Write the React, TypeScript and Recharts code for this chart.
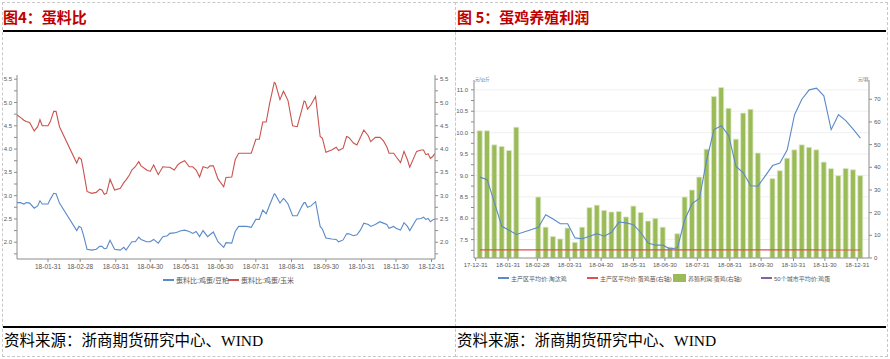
import React from 'react'
import { ComposedChart, Line, Bar, XAxis, YAxis, CartesianGrid } from 'recharts'

// 图4 蛋料比
const ratioDates = [
  '2018-01-04', '2018-01-07', '2018-01-10', '2018-01-12', '2018-01-15', '2018-01-19', '2018-01-22', '2018-01-24', '2018-01-26', '2018-01-31',
  '2018-02-02', '2018-02-05', '2018-02-07', '2018-02-10', '2018-02-25', '2018-02-27', '2018-03-01', '2018-03-03', '2018-03-06', '2018-03-10',
  '2018-03-14', '2018-03-17', '2018-03-19', '2018-03-21', '2018-03-23', '2018-03-26', '2018-03-30', '2018-04-04', '2018-04-07', '2018-04-09',
  '2018-04-12', '2018-04-14', '2018-04-17', '2018-04-20', '2018-04-22', '2018-04-27', '2018-04-30', '2018-05-03', '2018-05-07', '2018-05-11',
  '2018-05-15', '2018-05-17', '2018-05-21', '2018-05-24', '2018-05-26', '2018-05-30', '2018-06-03', '2018-06-06', '2018-06-09', '2018-06-12',
  '2018-06-15', '2018-06-19', '2018-06-21', '2018-06-24', '2018-06-28', '2018-07-03', '2018-07-05', '2018-07-10', '2018-07-13', '2018-07-16',
  '2018-07-23', '2018-07-27', '2018-07-31', '2018-08-03', '2018-08-06', '2018-08-09', '2018-08-12', '2018-08-16', '2018-08-17', '2018-08-21',
  '2018-08-24', '2018-08-25', '2018-08-28', '2018-09-01', '2018-09-05', '2018-09-09', '2018-09-11', '2018-09-12', '2018-09-14', '2018-09-17',
  '2018-09-21', '2018-09-25', '2018-09-27', '2018-09-30', '2018-10-05', '2018-10-09', '2018-10-11', '2018-10-15', '2018-10-18', '2018-10-20',
  '2018-10-24', '2018-10-27', '2018-10-30', '2018-11-02', '2018-11-06', '2018-11-08', '2018-11-12', '2018-11-16', '2018-11-19', '2018-11-22',
  '2018-11-24', '2018-11-28', '2018-11-30', '2018-12-04', '2018-12-07', '2018-12-10', '2018-12-12', '2018-12-18', '2018-12-22', '2018-12-24',
  '2018-12-26', '2018-12-28', '2018-12-30', '2019-01-01', '2019-01-03',
]
// 蛋料比:鸡蛋/豆粕
const eggSoymeal = [
  2.85, 2.85, 2.82, 2.85, 2.84, 2.73, 2.78, 2.89, 2.82, 2.82,
  2.92, 3.05, 3.04, 2.84, 2.25, 2.34, 2.31, 2.14, 1.85, 1.83,
  1.85, 1.91, 1.91, 1.86, 1.87, 2.04, 1.85, 1.83, 1.89, 1.83,
  1.94, 2.01, 2.01, 2.11, 2.06, 2.01, 2.01, 2.06, 1.98, 2.12,
  2.14, 2.19, 2.2, 2.22, 2.24, 2.26, 2.23, 2.19, 2.23, 2.12,
  2.25, 2.12, 2.16, 2.22, 2.01, 1.89, 1.99, 1.98, 2.23, 2.34,
  2.34, 2.32, 2.49, 2.49, 2.69, 2.61, 2.8, 3.04, 3.02, 2.84,
  2.94, 2.92, 2.82, 2.57, 2.57, 2.77, 2.85, 2.85, 2.75, 2.78,
  2.87, 2.34, 2.28, 2.09, 2.07, 2.06, 2.01, 2.05, 2.18, 2.18,
  2.14, 2.16, 2.26, 2.41, 2.38, 2.34, 2.38, 2.44, 2.41, 2.38,
  2.3, 2.34, 2.3, 2.26, 2.42, 2.34, 2.25, 2.5, 2.51, 2.54,
  2.49, 2.51, 2.44, 2.48, 2.5,
]
// 蛋料比:鸡蛋/玉米
const eggCorn = [
  4.73, 4.68, 4.62, 4.59, 4.57, 4.39, 4.48, 4.63, 4.5, 4.5,
  4.59, 4.81, 4.81, 4.48, 3.7, 3.82, 3.78, 3.52, 3.09, 3.05,
  3.07, 3.14, 3.12, 3.03, 3.05, 3.35, 3.12, 3.16, 3.28, 3.34,
  3.45, 3.55, 3.62, 3.73, 3.64, 3.55, 3.52, 3.66, 3.45, 3.62,
  3.61, 3.61, 3.55, 3.66, 3.7, 3.75, 3.62, 3.62, 3.55, 3.4,
  3.62, 3.59, 3.64, 3.64, 3.36, 3.19, 3.39, 3.4, 3.77, 3.91,
  3.91, 3.91, 4.21, 4.21, 4.58, 4.58, 4.98, 5.43, 5.41, 5.06,
  5.24, 5.2, 5.04, 4.5, 4.48, 4.84, 5.03, 5.02, 4.86, 4.95,
  5.13, 4.27, 4.23, 3.93, 3.98, 4.04, 3.97, 4.02, 4.27, 4.25,
  4.13, 4.09, 4.25, 4.41, 4.28, 4.16, 4.25, 4.25, 4.18, 4.05,
  3.91, 3.91, 3.84, 3.71, 3.95, 3.77, 3.61, 3.95, 3.98, 3.98,
  3.88, 3.9, 3.8, 3.84, 3.91,
]
const ratioTicks = ['18-01-31', '18-02-28', '18-03-31', '18-04-30', '18-05-31', '18-06-30', '18-07-31', '18-08-31', '18-09-30', '18-10-31', '18-11-30', '18-12-31']
const ratioYTicks = [1.75, 2, 2.25, 2.5, 2.75, 3, 3.25, 3.5, 3.75, 4, 4.25, 4.5, 4.75, 5, 5.25, 5.5]
const ratioYMajor = [2, 2.5, 3, 3.5, 4, 4.5, 5, 5.5]

// 图5 蛋鸡养殖利润 (weekly)
const weekDates = [
  '2018-01-04', '2018-01-11', '2018-01-18', '2018-01-25', '2018-02-01', '2018-02-08', '2018-02-15', '2018-02-22', '2018-03-01', '2018-03-08',
  '2018-03-15', '2018-03-22', '2018-03-29', '2018-04-05', '2018-04-12', '2018-04-19', '2018-04-26', '2018-05-03', '2018-05-10', '2018-05-17',
  '2018-05-24', '2018-05-31', '2018-06-07', '2018-06-14', '2018-06-21', '2018-06-28', '2018-07-05', '2018-07-12', '2018-07-19', '2018-07-26',
  '2018-08-02', '2018-08-09', '2018-08-16', '2018-08-23', '2018-08-30', '2018-09-06', '2018-09-13', '2018-09-20', '2018-09-27', '2018-10-04',
  '2018-10-11', '2018-10-18', '2018-10-25', '2018-11-01', '2018-11-08', '2018-11-15', '2018-11-22', '2018-11-29', '2018-12-06', '2018-12-13',
  '2018-12-20', '2018-12-27', '2019-01-03',
]
// 主产区平均价:淘汰鸡 (元/公斤, 左轴)
const cullHen = [
  8.96, 8.9, 8.36, 7.81, 7.72, 7.62, null, null, 7.79, 8.08,
  7.98, 7.87, 7.87, 7.54, 7.52, 7.58, 7.64, 7.58, 7.67, 7.91,
  7.89, 7.85, 7.66, 7.42, 7.37, 7.37, 7.28, 7.31, 7.97, 8.34,
  8.46, 9.37, 10.07, 10.16, 9.93, 9.21, 9.06, 8.76, 8.75, null,
  9.23, 9.29, 9.6, 10.42, 10.78, 11.0, 11.04, 10.86, 10.07, 10.42,
  10.28, 10.08, 9.87,
]
// 主产区平均价:蛋鸡苗 (元/羽, 右轴)
const chickPrice = [
  3.6, 3.6, 3.6, 3.6, 3.6, 3.6, 3.6, 3.6, 3.6, 3.6,
  3.6, 3.6, 3.6, 3.6, 3.6, 3.6, 3.6, 3.6, 3.6, 3.6,
  3.6, 3.6, 3.6, 3.6, 3.6, 3.6, 3.6, 3.6, 3.6, 3.6,
  3.6, 3.6, 3.6, 3.6, 3.6, 3.6, 3.6, 3.6, 3.6, 3.6,
  3.6, 3.6, 3.6, 3.6, 3.6, 3.6, 3.6, 3.5, 3.5, 3.5,
  3.5, 3.5, 3.5,
]
// 养殖利润:蛋鸡 (元/羽, 右轴)
const layerProfit = [
  56.1, 56.1, 49.9, 49.2, 47.4, 57.7, null, null, 26.9, 13.6,
  9.5, 8.4, 13.2, 6.9, 13.6, 22.2, 23.3, 21.0, 20.3, 20.5,
  18.1, 22.9, 20.1, 16.3, 17.5, 13.6, 4.8, 10.7, 26.9, 30.0,
  35.7, 48.0, 71.2, 75.2, 66.0, 52.4, 63.9, 65.6, 46.3, null,
  35.0, 38.5, 44.0, 47.7, 49.9, 48.8, 47.7, 42.3, 39.4, 36.3,
  39.5, 38.9, 36.3,
]
const profitTicks = ['17-12-31', '18-01-31', '18-02-28', '18-03-31', '18-04-30', '18-05-31', '18-06-30', '18-07-31', '18-08-31', '18-09-30', '18-10-31', '18-11-30', '18-12-31']
const cullYTicks = [7.25, 7.5, 7.75, 8, 8.25, 8.5, 8.75, 9, 9.25, 9.5, 9.75, 10, 10.25, 10.5, 10.75, 11]
const cullYMajor = [7.5, 8, 8.5, 9, 9.5, 10, 10.5, 11]
const profitYTicks = [0, 10, 20, 30, 40, 50, 60, 70]

const toDay = (s: string) => (Date.parse(s) - Date.parse('2017-12-31')) / 86400000
const labelDay = (l: string) => toDay('20' + l)
const fmtDay = (d: number) => {
  const t = new Date(Date.parse('2017-12-31') + d * 86400000)
  return t.toISOString().slice(2, 10)
}

const ratioData = ratioDates.map((d, i) => ({ day: toDay(d), soymeal: eggSoymeal[i], corn: eggCorn[i] }))
const profitData = weekDates.map((d, i) => ({ day: toDay(d), cull: cullHen[i], chick: chickPrice[i], profit: layerProfit[i] }))

const BLUE = '#4F81BD'
const BLUE2 = '#5A8AC8'
const RED = '#C0504D'
const AXIS = '#8c8c8c'
const TXT = '#595959'
const sans = '"Liberation Sans", "Noto Sans CJK SC", sans-serif'

function LegendItem({ x, y, color, text, size, box }: { x: number; y: number; color: string; text: string; size: number; box?: boolean }) {
  return (
    <div style={{ position: 'absolute', left: x, top: y - 5, height: 10, display: 'flex', alignItems: 'center', fontSize: size, color: TXT, whiteSpace: 'nowrap' }}>
      {box
        ? <span style={{ display: 'inline-block', width: 13, height: 8, background: '#9BBB59', marginRight: 2 }} />
        : <span style={{ display: 'inline-block', width: 11, height: 1.2, background: color, marginRight: 2 }} />}
      {text}
    </div>
  )
}

export default function App() {
  const majorFmt = (v: number) => (Math.abs(v * 2 - Math.round(v * 2)) < 1e-6 ? v.toFixed(1) : '')
  return (
    <div style={{ position: 'absolute', left: 0, top: 0, width: 890, height: 359, background: '#fff', fontFamily: sans, overflow: 'hidden' }}>
      {/* dashed frames */}
      <div style={{ position: 'absolute', left: 2, top: 2, width: 454, height: 355, border: '1px dashed #c8c8c8', boxSizing: 'border-box' }} />
      <div style={{ position: 'absolute', left: 455, top: 2, width: 433, height: 355, border: '1px dashed #c8c8c8', boxSizing: 'border-box' }} />

      {/* titles */}
      <div style={{ position: 'absolute', left: 3, top: 8, fontSize: 15, fontWeight: 'bold', color: '#C00000', fontFamily: '"Noto Sans CJK SC", sans-serif', lineHeight: '17px' }}>图4：蛋料比</div>
      <div style={{ position: 'absolute', left: 457, top: 8, fontSize: 15, fontWeight: 'bold', color: '#C00000', fontFamily: '"Noto Sans CJK SC", sans-serif', lineHeight: '17px' }}>图 5：蛋鸡养殖利润</div>
      <div style={{ position: 'absolute', left: 3, top: 30, width: 883, height: 2, background: '#000' }} />

      {/* footers */}
      <div style={{ position: 'absolute', left: 3, top: 326, width: 883, height: 2, background: '#000' }} />
      <div style={{ position: 'absolute', left: 4, top: 333, fontSize: 15.5, lineHeight: '16px', fontFamily: '"Liberation Serif", "Noto Sans CJK SC", serif' }}>资料来源：浙商期货研究中心、WIND</div>
      <div style={{ position: 'absolute', left: 457, top: 333, fontSize: 15.5, lineHeight: '16px', fontFamily: '"Liberation Serif", "Noto Sans CJK SC", serif' }}>资料来源：浙商期货研究中心、WIND</div>

      {/* 图4 */}
      <div style={{ position: 'absolute', left: 0, top: 55 }}>
        <ComposedChart width={452} height={220} data={ratioData} margin={{ top: 20, right: 0, bottom: 0, left: 0 }}>
          <CartesianGrid vertical={false} stroke="#f0f0f0" horizontalValues={ratioYMajor} />
          <XAxis dataKey="day" type="number" domain={[4, 368]} allowDataOverflow ticks={ratioTicks.map(labelDay)} tickFormatter={fmtDay} interval={0}
            height={16} tickSize={3} tick={{ fontSize: 6.5, fill: TXT }} axisLine={{ stroke: AXIS }} tickLine={{ stroke: AXIS }} />
          <YAxis yAxisId="l" domain={[1.64, 5.59]} allowDataOverflow ticks={ratioYTicks} tickFormatter={majorFmt} interval={0} width={17}
            tickSize={3} tickMargin={2} tick={{ fontSize: 6, fill: TXT }} axisLine={{ stroke: AXIS }} tickLine={{ stroke: AXIS }} />
          <YAxis yAxisId="r" orientation="right" domain={[1.64, 5.59]} allowDataOverflow ticks={ratioYTicks} tickFormatter={majorFmt} interval={0} width={17}
            tickSize={3} tickMargin={2} tick={{ fontSize: 6, fill: TXT }} axisLine={{ stroke: AXIS }} tickLine={{ stroke: AXIS }} />
          <Line yAxisId="l" dataKey="soymeal" type="linear" stroke={BLUE2} strokeWidth={1.1} dot={false} isAnimationActive={false} />
          <Line yAxisId="r" dataKey="corn" type="linear" stroke="#C9534F" strokeWidth={1.1} dot={false} isAnimationActive={false} />
        </ComposedChart>
      </div>
      <LegendItem x={163} y={280} color={BLUE2} text="蛋料比:鸡蛋/豆粕" size={7} />
      <LegendItem x={228} y={280} color="#C9534F" text="蛋料比:鸡蛋/玉米" size={7} />

      {/* 图5 */}
      <div style={{ position: 'absolute', left: 475, top: 76, fontSize: 4.5, color: TXT }}>元/公斤</div>
      <div style={{ position: 'absolute', left: 858, top: 76, fontSize: 4.5, color: TXT }}>元/羽</div>
      <div style={{ position: 'absolute', left: 445, top: 55 }}>
        <ComposedChart width={445} height={219} data={profitData} margin={{ top: 25, right: 0, bottom: 0, left: 0 }}>
          <CartesianGrid vertical={false} yAxisId="l" stroke="#f0f0f0" horizontalValues={cullYMajor} />
          <XAxis dataKey="day" type="number" domain={[-1.6, 376.2]} allowDataOverflow ticks={profitTicks.map(labelDay)} tickFormatter={fmtDay} interval={0}
            height={16} tickSize={3} tick={{ fontSize: 6, fill: TXT }} axisLine={{ stroke: AXIS }} tickLine={{ stroke: AXIS }} />
          <YAxis yAxisId="l" domain={[7.07, 11.23]} allowDataOverflow ticks={cullYTicks} tickFormatter={majorFmt} interval={0} width={29}
            tickSize={3} tickMargin={3} tick={{ fontSize: 6, fill: TXT }} axisLine={{ stroke: AXIS }} tickLine={{ stroke: AXIS }} />
          <YAxis yAxisId="r" orientation="right" domain={[0, 78.5]} allowDataOverflow ticks={profitYTicks} interval={0} width={21}
            tickSize={3} tickMargin={2} tick={{ fontSize: 6, fill: TXT }} axisLine={{ stroke: AXIS }} tickLine={{ stroke: AXIS }} />
          <Bar yAxisId="r" dataKey="profit" fill="#9BBB59" stroke="#dde8c6" strokeWidth={0.8} barSize={5} isAnimationActive={false} />
          <Line yAxisId="r" dataKey="chick" type="linear" stroke="#E0504D" strokeWidth={1.1} dot={false} isAnimationActive={false} />
          <Line yAxisId="l" dataKey="cull" type="linear" stroke={BLUE2} strokeWidth={1.1} dot={false} connectNulls isAnimationActive={false} />
        </ComposedChart>
      </div>
      <LegendItem x={498} y={278} color={BLUE2} text="主产区平均价:淘汰鸡" size={6} />
      <LegendItem x={587} y={278} color="#E0504D" text="主产区平均价:蛋鸡苗(右轴)" size={6} />
      <LegendItem x={673} y={278} color="#9BBB59" text="养殖利润:蛋鸡(右轴)" size={6} box />
      <LegendItem x={761} y={278} color="#8064A2" text="50个城市平均价:鸡蛋" size={6} />
    </div>
  )
}
